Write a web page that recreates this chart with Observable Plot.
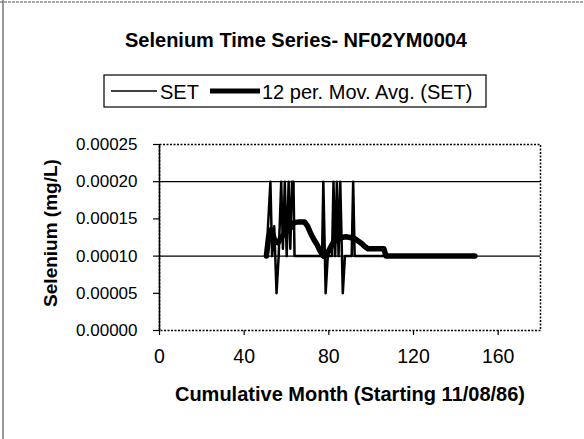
<!DOCTYPE html>
<html>
<head>
<meta charset="utf-8">
<script src="https://cdn.jsdelivr.net/npm/d3@7"></script>
<script src="https://cdn.jsdelivr.net/npm/@observablehq/plot@0.6"></script>
<style>
  html, body { margin: 0; padding: 0; background: #fff; }
  #chart { width: 584px; height: 439px; overflow: hidden; }
</style>
</head>
<body>
<div id="chart"></div>
<script>
// ---- data ----
const titleText = "Selenium Time Series- NF02YM0004";
const xLabel = "Cumulative Month (Starting 11/08/86)";
const yLabel = "Selenium (mg/L)";
const seriesNames = ["SET", "12 per. Mov. Avg. (SET)"];

const setMonths = [50.5, 52.4, 53.2, 54.2, 55.3, 56.3, 57.5, 58.3, 59.2, 60.1, 61.0, 61.8, 62.6, 63.3, 63.8,
  70, 76.8, 77.4, 78.5, 79.5, 81.5, 82.2, 83.0, 83.8, 84.6, 85.4, 86.6, 87.6, 90.8, 91.5, 92.2,
  100, 110, 120, 130, 140, 149];
const setValues = [0.0001, 0.0002, 0.0001, 0.00014, 0.00005, 0.0001, 0.0002, 0.00011, 0.0002, 0.0001, 0.0002, 0.00011, 0.0002, 0.0002, 0.0001,
  0.0001, 0.0001, 0.0002, 0.00005, 0.0001, 0.0001, 0.0002, 0.0001, 0.0002, 0.0001, 0.0002, 0.00005, 0.0001, 0.0001, 0.0002, 0.0001,
  0.0001, 0.0001, 0.0001, 0.0001, 0.0001, 0.0001];

const maMonths = [50.5, 51.5, 52.5, 53.5, 54.5, 56, 57.5, 59, 60.5, 62, 63.5, 66, 68.5, 70, 71.5, 73, 74.5, 76, 77.5,
  79, 80.5, 82, 84, 86, 88, 90, 92, 94, 95.5, 97, 98.5, 106, 107, 149];
const maValues = [0.0001, 0.000125, 0.000135, 0.00013, 0.00012, 0.000118, 0.000125, 0.00013, 0.000135, 0.000138, 0.000145, 0.000146, 0.000146, 0.00014, 0.00013, 0.000122, 0.000115, 0.000106, 0.0001,
  0.000102, 0.00011, 0.000118, 0.000122, 0.000125, 0.000126, 0.000125, 0.000124, 0.00012, 0.000117, 0.000113, 0.00011, 0.00011, 0.0001, 0.0001];

const xTicks = [0, 40, 80, 120, 160];
const yTicks = [0, 0.00005, 0.0001, 0.00015, 0.0002, 0.00025];
const gridValues = [0.0001, 0.0002];
const xDomain = [0, 180];
const yDomain = [0, 0.00025];

// ---- build tables ----
const setData = setMonths.map((m, i) => ({month: m, value: setValues[i]}));
const maData = maMonths.map((m, i) => ({month: m, value: maValues[i]}));

const W = 584, H = 439;
const font = "'Liberation Sans', Arial, sans-serif";

const chart = Plot.plot({
  width: W,
  height: H,
  marginLeft: 159,
  marginRight: 44,
  marginTop: 144,
  marginBottom: 109,
  style: {fontFamily: font, fontSize: "17px", background: "white", color: "black", overflow: "visible"},
  x: {domain: xDomain},
  y: {domain: yDomain},
  marks: [
    Plot.ruleY(gridValues, {stroke: "black", strokeWidth: 1.2}),
    Plot.frame({stroke: "black", strokeWidth: 1.5, strokeDasharray: "2,1.5"}),
    Plot.ruleX([0], {stroke: "black", strokeWidth: 1.5}),
    Plot.axisY({ticks: yTicks, tickFormat: d3.format(".5f"), tickSize: 6, tickPadding: 16, fontSize: 17, label: null, strokeWidth: 1.2}),
    Plot.axisX({ticks: xTicks, tickSize: 5, tickPadding: 14, fontSize: 19.5, label: null, strokeWidth: 1.2}),
    Plot.line(maData, {x: "month", y: "value", stroke: "black", strokeWidth: 5.5, curve: "linear"}),
    Plot.line(setData, {x: "month", y: "value", stroke: "black", strokeWidth: 2.5, curve: "linear"})
  ]
});

const svg = d3.select(chart);

// outer chart-area border (top and left visible in reference)
svg.append("line").attr("x1", 3).attr("x2", 3).attr("y1", 0).attr("y2", H)
  .attr("stroke", "#555").attr("stroke-width", 1.2);
svg.append("line").attr("x1", 0).attr("x2", W).attr("y1", 2).attr("y2", 2)
  .attr("stroke", "#555").attr("stroke-width", 1.2).attr("stroke-dasharray", "3,1");

// title
svg.append("text").attr("x", 296).attr("y", 47)
  .attr("text-anchor", "middle").attr("font-family", font)
  .attr("font-size", 20).attr("font-weight", "bold").text(titleText);

// legend
const lg = svg.append("g").attr("text-anchor", "start");
lg.append("rect").attr("x", 104).attr("y", 75).attr("width", 382).attr("height", 32)
  .attr("fill", "white").attr("stroke", "black").attr("stroke-width", 1.2);
lg.append("line").attr("x1", 111).attr("x2", 157).attr("y1", 91).attr("y2", 91)
  .attr("stroke", "black").attr("stroke-width", 1.5);
lg.append("text").attr("x", 160).attr("y", 98.5).attr("text-anchor", "start").attr("font-family", font)
  .attr("font-size", 20).text(seriesNames[0]);
lg.append("line").attr("x1", 210).attr("x2", 260).attr("y1", 91).attr("y2", 91)
  .attr("stroke", "black").attr("stroke-width", 5);
lg.append("text").attr("x", 262).attr("y", 98.5).attr("text-anchor", "start").attr("font-family", font)
  .attr("font-size", 20).text(seriesNames[1]);

// axis titles
svg.append("text").attr("x", 350).attr("y", 401)
  .attr("text-anchor", "middle").attr("font-family", font)
  .attr("font-size", 20).attr("font-weight", "bold").text(xLabel);
svg.append("text").attr("transform", "translate(57,233) rotate(-90)")
  .attr("text-anchor", "middle").attr("font-family", font)
  .attr("font-size", 19).attr("font-weight", "bold").text(yLabel);

document.getElementById("chart").appendChild(chart);
</script>
</body>
</html>
